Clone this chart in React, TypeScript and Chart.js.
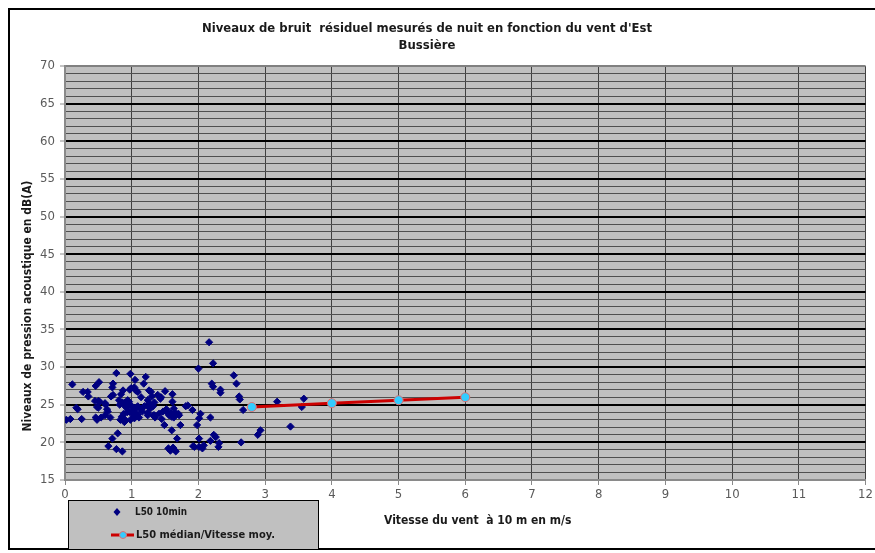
import React, { useEffect, useRef } from "react";
import { Chart, registerables } from "chart.js";

Chart.register(...registerables);

const titleLines = ["Niveaux de bruit  résiduel mesurés de nuit en fonction du vent d'Est", "Bussière"];
const xAxisTitle = "Vitesse du vent  à 10 m en m/s";
const yAxisTitle = "Niveaux de pression acoustique en dB(A)";
const seriesNames = ["L50 10min", "L50 médian/Vitesse moy."];

const windSpeed = [
  0.02, 0.08, 0.11, 0.17, 0.19, 0.25, 0.27, 0.34, 0.35, 0.46, 0.51, 0.45, 0.5, 0.48, 0.5, 0.46, 0.48, 0.54, 0.52, 0.6,
  0.61, 0.63, 0.64, 0.6, 0.65, 0.68, 0.69, 0.72, 0.71, 0.72, 0.71, 0.79, 0.77, 0.77, 0.86, 0.81, 0.82, 0.84, 0.87, 0.85,
  0.83, 0.89, 0.9, 0.91, 0.94, 0.86, 0.9, 0.95, 0.99, 0.96, 0.88, 0.93, 0.98, 0.98, 0.97, 0.99, 0.96, 1.01, 1.0, 1.04,
  1.05, 1.05, 1.04, 1.05, 1.06, 1.09, 1.06, 1.09, 1.04, 1.09, 1.11, 1.14, 1.14, 1.16, 1.19, 1.18, 1.21, 1.24, 1.24, 1.26,
  1.26, 1.24, 1.26, 1.28, 1.29, 1.3, 1.32, 1.32, 1.34, 1.35, 1.34, 1.39, 1.41, 1.43, 1.44, 1.45, 1.47, 1.49, 1.5, 1.52,
  1.54, 1.56, 1.55, 1.58, 1.6, 1.6, 1.61, 1.61, 1.63, 1.63, 1.63, 1.58, 1.66, 1.62, 1.68, 1.66, 1.7, 1.71, 1.73, 1.81,
  1.84, 1.91, 1.92, 1.94, 1.98, 2.0, 2.01, 2.01, 2.03, 2.01, 2.06, 2.08, 2.16, 2.18, 2.18, 2.2, 2.22, 2.22, 2.23, 2.26,
  2.3, 2.31, 2.33, 2.33, 2.53, 2.57, 2.61, 2.62, 2.64, 2.67, 2.89, 2.93, 3.18, 3.38, 3.55, 3.58,
];
const l50 = [
  23.0, 23.1, 27.7, 24.6, 24.4, 23.1, 26.7, 26.7, 26.1, 27.5, 28.0, 25.5, 25.5, 24.7, 24.6, 23.3, 23.0, 23.3, 25.4, 25.2,
  25.0, 24.4, 24.1, 23.6, 19.5, 23.3, 26.1, 26.3, 27.3, 27.8, 20.5, 21.2, 29.2, 19.1, 18.8, 25.6, 25.0, 26.4, 26.9, 23.4,
  23.0, 22.7, 23.0, 24.7, 25.6, 25.3, 25.3, 24.9, 24.9, 24.1, 23.8, 24.0, 23.0, 29.1, 27.0, 27.2, 25.4, 24.1, 23.8, 23.2,
  23.4, 24.6, 27.3, 28.3, 26.9, 26.7, 24.4, 24.8, 23.9, 23.7, 23.3, 26.0, 24.4, 24.1, 24.8, 27.8, 28.7, 23.6, 23.9, 26.9,
  24.6, 25.6, 25.2, 24.5, 26.7, 26.1, 23.6, 24.8, 25.3, 23.3, 23.6, 26.3, 23.8, 25.8, 26.0, 23.1, 24.1, 22.3, 26.8, 24.4,
  23.9, 23.6, 19.2, 23.9, 21.6, 23.4, 26.4, 25.4, 24.5, 23.3, 19.1, 18.9, 18.8, 19.3, 20.5, 23.9, 23.8, 23.6, 22.3, 24.8,
  24.9, 24.3, 19.5, 19.4, 22.3, 29.8, 20.5, 19.4, 23.8, 23.2, 19.2, 19.6, 33.3, 20.2, 23.3, 27.8, 30.5, 27.4, 21.0, 20.7,
  19.4, 19.9, 27.0, 26.6, 28.9, 27.8, 26.1, 25.7, 20.0, 24.3, 21.0, 21.6, 25.4, 22.1, 24.7, 25.8,
];
const medianWind = [2.8, 4, 5, 6];
const medianL50 = [24.7, 25.2, 25.6, 26.0];

const xMin = 0, xMax = 12, yMin = 15, yMax = 70;

const FONT = "'DejaVu Sans Condensed', 'DejaVu Sans', sans-serif";

const decorPlugin = {
  id: "decor",
  beforeDraw(chart: any) {
    const { ctx, chartArea: a } = chart;
    ctx.save();
    ctx.fillStyle = "#ffffff";
    ctx.fillRect(0, 0, chart.width, chart.height);
    ctx.fillStyle = "#c0c0c0";
    ctx.fillRect(a.left, a.top, a.right - a.left, a.bottom - a.top);
    ctx.restore();
  },
  afterDraw(chart: any) {
    const { ctx } = chart;
    ctx.save();
    // frame
    ctx.strokeStyle = "#000";
    ctx.lineWidth = 2;
    ctx.beginPath();
    ctx.moveTo(880, 9);
    ctx.lineTo(9, 9);
    ctx.lineTo(9, 549);
    ctx.lineTo(880, 549);
    ctx.stroke();
    // title
    ctx.fillStyle = "#1a1a1a";
    ctx.textAlign = "center";
    ctx.textBaseline = "middle";
    ctx.font = `bold 13px ${FONT}`;
    ctx.fillText(titleLines[0], 427, 29, 450);
    ctx.fillText(titleLines[1], 427, 46, 60);
    // x title
    ctx.font = `bold 12px ${FONT}`;
    ctx.textAlign = "left";
    ctx.fillText(xAxisTitle, 384, 521, 201);
    // y title
    ctx.save();
    ctx.translate(28, 306);
    ctx.rotate(-Math.PI / 2);
    ctx.textAlign = "center";
    ctx.fillText(yAxisTitle, 0, 0, 265);
    ctx.restore();
    // legend
    ctx.fillStyle = "#c0c0c0";
    ctx.fillRect(68, 500, 250, 49);
    ctx.strokeStyle = "#000";
    ctx.lineWidth = 1;
    ctx.strokeRect(68.5, 500.5, 250, 49);
    // diamond
    ctx.fillStyle = "#000080";
    ctx.beginPath();
    ctx.moveTo(117, 508);
    ctx.lineTo(120.5, 512);
    ctx.lineTo(117, 516);
    ctx.lineTo(113.5, 512);
    ctx.closePath();
    ctx.fill();
    ctx.fillStyle = "#1a1a1a";
    ctx.font = `bold 11px ${FONT}`;
    ctx.textAlign = "left";
    ctx.fillText(seriesNames[0], 135, 512, 52);
    // line marker
    ctx.strokeStyle = "#cc0000";
    ctx.lineWidth = 3;
    ctx.beginPath();
    ctx.moveTo(111, 535);
    ctx.lineTo(134, 535);
    ctx.stroke();
    ctx.fillStyle = "#33ccff";
    ctx.strokeStyle = "#e07070";
    ctx.lineWidth = 1;
    ctx.beginPath();
    ctx.arc(123, 535, 3.5, 0, Math.PI * 2);
    ctx.fill();
    ctx.stroke();
    ctx.fillStyle = "#1a1a1a";
    ctx.fillText(seriesNames[1], 136, 535, 142);
    ctx.restore();
  },
};

export default function App() {
  const ref = useRef<HTMLCanvasElement | null>(null);
  useEffect(() => {
    if (!ref.current) return;
    const scatterData = windSpeed.map((x, i) => ({ x, y: l50[i] }));
    const medianData = medianWind.map((x, i) => ({ x, y: medianL50[i] }));
    const chart = new Chart(ref.current, {
      type: "scatter",
      data: {
        datasets: [
          {
            type: "line",
            label: seriesNames[1],
            data: medianData,
            borderColor: "#cc0000",
            borderWidth: 3,
            pointBackgroundColor: "#33ccff",
            pointBorderColor: "#e07070",
            pointBorderWidth: 1,
            pointRadius: 4.5,
            showLine: true,
            fill: false,
            tension: 0,
          } as any,
          {
            type: "scatter",
            label: seriesNames[0],
            data: scatterData,
            pointStyle: "rectRot",
            pointRadius: 3.6,
            backgroundColor: "#000080",
            borderColor: "#000080",
            borderWidth: 1,
          } as any,
        ],
      },
      options: {
        animation: false,
        responsive: false,
        devicePixelRatio: 1,
        layout: { padding: { left: 10, right: 9, top: 66, bottom: 48 } },
        plugins: { legend: { display: false }, tooltip: { enabled: false }, title: { display: false } },
        scales: {
          x: {
            type: "linear",
            min: xMin,
            max: xMax,
            afterFit: (s: any) => { s.height = 25; },
            border: { color: "#8a8a8a", width: 2 },
            grid: { color: "#404040", lineWidth: 1, tickLength: 5, tickColor: "#8a8a8a", drawTicks: true },
            ticks: { stepSize: 1, autoSkip: false, maxRotation: 0, color: "#5a5a5a", padding: 2, font: { family: FONT, size: 13 } },
          },
          y: {
            type: "linear",
            min: yMin,
            max: yMax,
            afterFit: (s: any) => { s.width = 55; },
            border: { color: "#8a8a8a", width: 2 },
            grid: {
              color: (c: any) => {
                const v = c.tick ? c.tick.value : 0;
                if (v === yMax) return "#808080";
                return v % 5 === 0 ? "#000000" : "#505050";
              },
              lineWidth: (c: any) => {
                const v = c.tick ? c.tick.value : 0;
                return v % 5 === 0 ? 2 : 1;
              },
              tickLength: 5,
              tickColor: (c: any) => {
                const v = c.tick ? c.tick.value : 0;
                return v % 5 === 0 ? "#8a8a8a" : "rgba(0,0,0,0)";
              },
              tickWidth: 1,
            },
            ticks: {
              stepSize: 1,
              autoSkip: false,
              color: "#5a5a5a",
              padding: 5,
              font: { family: FONT, size: 13 },
              callback: (v: any) => (Number(v) % 5 === 0 ? String(v) : ""),
            },
          },
        },
      },
      plugins: [decorPlugin],
    });
    return () => chart.destroy();
  }, []);
  return (
    <div style={{ position: "absolute", left: 0, top: 0, width: 875, height: 553, background: "#fff" }}>
      <canvas ref={ref} width={875} height={553} style={{ display: "block", width: 875, height: 553 }} />
    </div>
  );
}
